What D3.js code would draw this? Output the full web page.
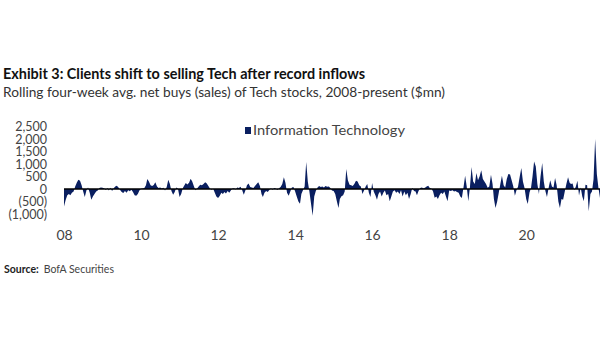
<!DOCTYPE html>
<html>
<head>
<meta charset="utf-8">
<script src="https://cdn.jsdelivr.net/npm/d3@7"></script>
<style>
  html, body { margin: 0; padding: 0; background: #fff; }
  svg { display: block; font-family: Lato, "Open Sans", sans-serif; }
</style>
</head>
<body>
<svg id="chart" width="605" height="341"></svg>
<script>
// Rolling four-week avg. net buys (sales) of Tech stocks, $mn
// two readings per month (1st and 16th), one array per year
const y2008 = [-700, -450, -250, -200, -250, -150, -100, 100, 250, 370, 330, 150, -100, -320, -50, 60, -150, -430, -300, -200, -100, -60, 40, 60];
const y2009 = [50, 30, -40, 40, -60, 50, -80, 30, 100, 130, 60, -40, -120, -160, -80, -150, -50, -90, -30, -120, -250, -270, -200, -60];
const y2010 = [10, 20, 40, 150, 400, 300, 150, 120, 160, 270, 100, 40, 60, 20, 50, -60, 80, 370, 200, -80, -230, -120, 60, 20];
const y2011 = [-320, -200, 40, 150, 240, 180, 250, 410, 300, 120, -50, 20, 100, 170, 150, 200, 270, 220, 120, 20, -30, 10, -150, -300];
const y2012 = [-360, -280, -150, -200, -120, -180, -80, -150, -60, 20, 30, -20, 60, 40, 90, -40, -230, -60, 150, 220, 80, 60, 40, 120];
const y2013 = [200, 270, 120, -200, -320, -150, -80, -120, -40, 30, -30, 40, 20, -40, 30, 80, 200, 470, 250, -150, -270, -100, 60, 80];
const y2014 = [-100, -300, -500, -590, -200, -50, 100, 1080, 300, -100, -600, -1070, -300, -80, 60, 120, 80, 100, 60, 120, 90, 100, 40, -60];
const y2015 = [-80, -200, -500, -760, -400, -290, -250, -100, 800, 350, 170, 150, 120, 200, 330, 300, 150, 100, -200, -60, 100, 200, -150, -320];
const y2016 = [240, -100, -250, -430, -200, -100, -300, -150, -60, -250, -200, -490, -300, -100, -50, -150, -100, -200, -50, -300, -100, -250, -150, -400];
const y2017 = [-200, 50, -80, -100, -250, -80, 40, 60, 30, 50, 100, 130, 40, 20, -100, -350, -300, -400, -250, -150, -200, -100, -300, -490];
const y2018 = [-60, -80, -50, -100, -80, -120, -150, -300, -360, 50, 530, 100, -490, 50, 880, 300, 200, 640, 350, 500, 750, 400, 300, 200];
const y2019 = [50, 100, 570, 200, -400, -760, -500, -150, 200, 530, 150, 60, 400, 600, 580, 350, 100, -270, -50, 100, 500, 840, 300, 50];
const y2020 = [-400, -600, -150, 50, 500, 1100, 900, 200, -200, 500, 1040, 300, -80, -320, 50, 350, 100, 60, 440, 150, -500, -760, -400, -430];
const y2021 = [-100, 200, 470, 250, 200, 220, -50, 100, 330, -260, 60, -300, -490, 170, 150, -890, -200, -100, 400, 2000, 600, 50, -360];

const years = [2008, 2009, 2010, 2011, 2012, 2013, 2014, 2015, 2016, 2017, 2018, 2019, 2020, 2021];
const yearValues = [y2008, y2009, y2010, y2011, y2012, y2013, y2014, y2015, y2016, y2017, y2018, y2019, y2020, y2021];

const yTicks = [-1000, -500, 0, 500, 1000, 1500, 2000, 2500];
const seriesName = 'Information Technology';

const title = 'Exhibit 3: Clients shift to selling Tech after record inflows';
const subtitle = 'Rolling four-week avg. net buys (sales) of Tech stocks, 2008-present ($mn)';

// flatten to {date, value}
const data = [];
years.forEach((yr, k) => {
  yearValues[k].forEach((v, i) => {
    data.push({ date: new Date(yr, Math.floor(i / 2), i % 2 ? 16 : 1), value: v });
  });
});

const navy = '#0a1f60';
const svg = d3.select('#chart');

const x = d3.scaleTime()
  .domain(d3.extent(data, d => d.date))
  .range([64, 600]);

const y = d3.scaleLinear()
  .domain([-1000, 2500])
  .range([214, 126.5]);

// header
svg.append('text')
  .attr('x', 3).attr('y', 79)
  .attr('font-size', 14.5).attr('font-weight', 'bold').attr('fill', '#111')
  .attr('textLength', 362).attr('lengthAdjust', 'spacingAndGlyphs')
  .text(title);

svg.append('text')
  .attr('x', 3).attr('y', 97)
  .attr('font-size', 14).attr('fill', '#333')
  .attr('textLength', 442).attr('lengthAdjust', 'spacingAndGlyphs')
  .text(subtitle);

// area
const area = d3.area()
  .x(d => x(d.date))
  .y0(y(0))
  .y1(d => y(d.value));

svg.append('path')
  .datum(data)
  .attr('fill', navy)
  .attr('d', area);

// zero line
svg.append('line')
  .attr('x1', x.range()[0]).attr('x2', x.range()[1])
  .attr('y1', y(0)).attr('y2', y(0))
  .attr('stroke', '#000').attr('stroke-width', 1.6);

// y axis: labels only, packed tight
const fmt = d3.format(',');
const yAxis = svg.append('g')
  .attr('transform', 'translate(47,0)')
  .call(d3.axisLeft(y).tickValues(yTicks).tickSize(0).tickPadding(0)
    .tickFormat(d => d < 0 ? `(${fmt(-d)})` : fmt(d)));
yAxis.select('.domain').remove();
yAxis.selectAll('text')
  .attr('font-family', 'Lato, sans-serif')
  .attr('font-size', 12.5).attr('fill', '#444');

// x axis: two-year labels
const xAxis = svg.append('g')
  .attr('transform', 'translate(0,230)')
  .call(d3.axisBottom(x)
    .tickValues(d3.range(2008, 2022, 2).map(yr => new Date(yr, 0, 1)))
    .tickSize(0).tickPadding(0)
    .tickFormat(d3.timeFormat('%y')));
xAxis.select('.domain').remove();
xAxis.selectAll('text')
  .attr('font-family', 'Lato, sans-serif')
  .attr('font-size', 14).attr('fill', '#444');

// legend
const legend = svg.append('g').attr('transform', 'translate(245,127)');
legend.append('rect')
  .attr('width', 6).attr('height', 7)
  .attr('fill', navy);
legend.append('text')
  .attr('x', 8).attr('y', 7.5)
  .attr('font-size', 14).attr('fill', '#444')
  .attr('textLength', 152).attr('lengthAdjust', 'spacingAndGlyphs')
  .text(seriesName);

// source
const src = svg.append('text').attr('x', 4).attr('y', 273).attr('font-size', 10.5).attr('fill', '#222');
src.append('tspan').attr('font-weight', 'bold').text('Source:');
src.append('tspan').attr('dx', 5).attr('fill', '#444').text('BofA Securities');
</script>
</body>
</html>
